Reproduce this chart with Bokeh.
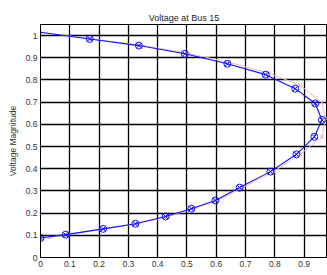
from bokeh.plotting import figure
from bokeh.embed import file_html
from bokeh.resources import INLINE
from bokeh.models import Range1d, FixedTicker

# Blue series (circles) - load parameter vs voltage magnitude
blue_x = [0.0, 0.168, 0.336, 0.493, 0.638, 0.769, 0.870, 0.938, 0.961, 0.935,
          0.874, 0.785, 0.680, 0.597, 0.515, 0.427, 0.324, 0.214, 0.086, 0.0]
blue_y = [1.015, 0.985, 0.955, 0.918, 0.873, 0.824, 0.761, 0.694, 0.620, 0.544,
          0.465, 0.387, 0.315, 0.257, 0.220, 0.185, 0.152, 0.129, 0.103, 0.088]

# Pink series (x markers) - second estimate
pink_x = [0.0, 0.172, 0.340, 0.498, 0.645, 0.780, 0.887, 0.961, 0.973, 0.961,
          0.887, 0.796, 0.690, 0.605, 0.522, 0.435, 0.332, 0.222, 0.094, 0.031]
pink_y = [1.015, 0.986, 0.957, 0.922, 0.879, 0.831, 0.776, 0.698, 0.627, 0.544,
          0.465, 0.387, 0.315, 0.257, 0.220, 0.185, 0.152, 0.129, 0.104, 0.091]

x_ticks = [0, 0.1, 0.2, 0.3, 0.4, 0.5, 0.6, 0.7, 0.8, 0.9]
y_ticks = [0, 0.1, 0.2, 0.3, 0.4, 0.5, 0.6, 0.7, 0.8, 0.9, 1.0]

FONT = "Liberation Sans"

p = figure(width=327, height=275, output_backend="svg", toolbar_location=None,
           x_range=Range1d(0, 0.98), y_range=Range1d(0, 1.05),
           title="Voltage at Bus 15",
           min_border_left=40, min_border_right=0, min_border_top=24, min_border_bottom=18)

p.title.align = "center"
p.title.text_font = FONT
p.title.text_font_size = "9px"
p.title.text_font_style = "normal"
p.title.text_color = "#222222"
p.title.offset = 0
p.title.standoff = 4

p.outline_line_color = "black"
p.outline_line_width = 1

p.xaxis.ticker = FixedTicker(ticks=x_ticks)
p.yaxis.ticker = FixedTicker(ticks=y_ticks)
p.xaxis.major_label_overrides = {0: "0"}
p.yaxis.major_label_overrides = {0: "0", 1.0: "1"}

for ax in (p.xaxis, p.yaxis):
    ax.major_label_text_font = FONT
    ax.major_label_text_font_size = "8.5px"
    ax.major_label_text_color = "#333333"
    ax.axis_line_color = "black"
    ax.major_tick_line_color = "black"
    ax.major_tick_out = 0
    ax.major_tick_in = 3
    ax.minor_tick_line_color = None
    ax.major_label_standoff = 3

p.yaxis.axis_label = "Voltage Magnitude"
p.yaxis.axis_label_text_font = FONT
p.yaxis.axis_label_text_font_size = "8.5px"
p.yaxis.axis_label_text_font_style = "normal"
p.yaxis.axis_label_text_color = "#333333"
p.yaxis.axis_label_standoff = 5

p.grid.grid_line_color = "black"
p.grid.grid_line_width = 1.3
p.grid.grid_line_alpha = 1.0

p.line(pink_x, pink_y, line_color="#ecc0b6", line_width=1)
p.scatter(pink_x, pink_y, marker="x", size=5, line_color="#e8aa9e", line_width=1)

p.line(blue_x, blue_y, line_color="#1010ff", line_width=1.1)
p.scatter(blue_x[1:], blue_y[1:], marker="circle_x", size=7, line_color="#1010ff",
          fill_color=None, line_width=1)

open("out.html", "w").write(file_html(p, INLINE))
